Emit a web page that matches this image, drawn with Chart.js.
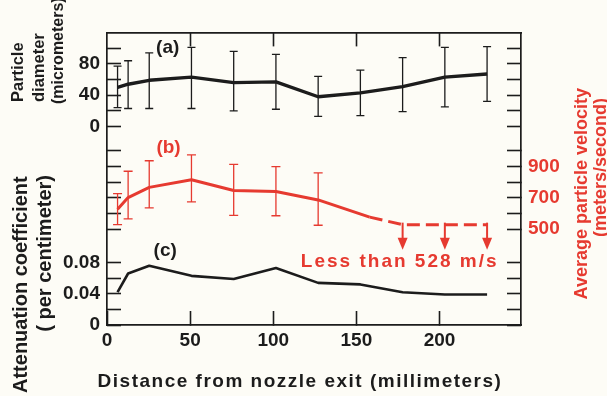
<!DOCTYPE html>
<html><head><meta charset="utf-8">
<script src="https://cdn.jsdelivr.net/npm/chart.js@4.4.1/dist/chart.umd.min.js"></script>
<style>html,body{margin:0;padding:0;background:#fdfcf6;}#wrap{width:607px;height:396px;}</style>
</head><body><div id="wrap"><canvas id="c" width="607" height="396"></canvas></div>
<script>
// ---- data ----
const distanceMm = [6.35, 12.7, 25.4, 50.8, 76.2, 101.6, 127, 152.4, 177.8, 203.2, 228.6];
const diameterMean = [50, 54, 59, 63, 56, 57, 38, 43, 51, 63, 67];
const diameterLow  = [24, 23, 23, 23, 20, 22, 13, 14, 19, 25, 32];
const diameterHigh = [77, 84, 94, 101, 96, 92, 64, 72, 88, 101, 102];
const velocityX    = [6.35, 12.7, 25.4, 50.8, 76.2, 101.6, 127];
const velocityMean = [627, 701, 766, 815, 746, 740, 686];
const velocityLow  = [528, 565, 635, 673, 587, 585, 524];
const velocityHigh = [726, 869, 936, 974, 913, 899, 859];
const velocityTailX = [158, 177.8, 203.2, 228.6];
const velocityTail  = [576, 528, 528, 528];
const upperBoundX = [177.8, 203.2, 228.6];
const upperBoundValue = 528;
const attenuation = [0.042, 0.066, 0.076, 0.063, 0.059, 0.073, 0.054, 0.052, 0.042, 0.039, 0.039];
const xTicks = [0, 50, 100, 150, 200];
const diameterTicks = [0, 20, 40, 60, 80, 100];
const diameterLabels = [0, 40, 80];
const velocityTicks = [500, 600, 700, 800, 900, 1000];
const velocityLabels = [500, 700, 900];
const attenuationTicks = [0, 0.02, 0.04, 0.06, 0.08];
const attenuationLabels = [0, 0.04, 0.08];

// ---- style ----
const RED = '#e63a30', INK = '#1c1c1c', BG = '#fdfcf6';
const FONT = "'Liberation Sans', Arial, sans-serif";
const tickFont = {family: FONT, size: 19, weight: 'bold'};
const setTicks = vals => s => { s.ticks = vals.map(v => ({value: v})); };
const grid = {drawOnChartArea: false, drawTicks: true, tickLength: -14, tickWidth: 1.6, tickColor: INK};
const border = {display: true, color: INK, width: 1.7};
const noBorder = {display: false};

const velocityLine = velocityX.map((x, i) => ({x, y: velocityMean[i]}))
  .concat(velocityTailX.map((x, i) => ({x, y: velocityTail[i]})));
const dashFrom = velocityX.length; // segments after the solid part are dashed

const bgPlugin = {
  id: 'bg',
  beforeDraw(chart) { const c = chart.ctx; c.save(); c.fillStyle = BG; c.fillRect(0, 0, chart.width, chart.height); c.restore(); },
  afterLayout(chart) {
    // let the zero-width attenuation axis share the label gutter of the diameter axis
    const s = chart.scales.yA; s.left = 0; s.width = s.right;
  }
};

const errorBars = {
  id: 'errorBars',
  beforeDatasetsDraw(chart) {
    const {ctx, scales: {x, yD, yV}} = chart;
    const draw = (xs, lo, hi, sc, color, cap) => {
      ctx.save(); ctx.strokeStyle = color; ctx.lineWidth = 1.3;
      xs.forEach((xv, i) => {
        const px = x.getPixelForValue(xv), p1 = sc.getPixelForValue(lo[i]), p2 = sc.getPixelForValue(hi[i]);
        ctx.beginPath();
        ctx.moveTo(px, p1); ctx.lineTo(px, p2);
        ctx.moveTo(px - cap, p1); ctx.lineTo(px + cap, p1);
        ctx.moveTo(px - cap, p2); ctx.lineTo(px + cap, p2);
        ctx.stroke();
      });
      ctx.restore();
    };
    draw(distanceMm, diameterLow, diameterHigh, yD, INK, 4);
    draw(velocityX, velocityLow, velocityHigh, yV, RED, 4.5);
  },
  afterDatasetsDraw(chart) {
    const {ctx, scales: {x, yV}} = chart;
    ctx.save(); ctx.strokeStyle = RED; ctx.fillStyle = RED; ctx.lineWidth = 2;
    upperBoundX.forEach(xv => {
      const px = x.getPixelForValue(xv), py = yV.getPixelForValue(upperBoundValue);
      ctx.beginPath(); ctx.moveTo(px, py - 2); ctx.lineTo(px, py + 14); ctx.stroke();
      ctx.beginPath(); ctx.moveTo(px - 5, py + 13); ctx.lineTo(px + 5, py + 13); ctx.lineTo(px, py + 25); ctx.closePath(); ctx.fill();
    });
    ctx.restore();
  }
};

function txt(ctx, s, x, y, opt) {
  ctx.save();
  ctx.font = `${opt.weight || 'bold'} ${opt.size}px ${FONT}`;
  ctx.fillStyle = opt.color || INK;
  ctx.textAlign = opt.align || 'center';
  ctx.textBaseline = 'middle';
  if ('letterSpacing' in ctx) ctx.letterSpacing = (opt.spacing || 0) + 'px';
  ctx.translate(x, y);
  if (opt.rot) ctx.rotate(-Math.PI / 2);
  ctx.fillText(s, 0, 0);
  ctx.restore();
}

const labels = {
  id: 'labels',
  afterDraw(chart) {
    const {ctx, scales: {x, yD, yV, yA}} = chart;
    txt(ctx, '(a)', x.getPixelForValue(36.5), yD.getPixelForValue(100), {size: 19});
    txt(ctx, '(b)', x.getPixelForValue(37), yV.getPixelForValue(1018), {size: 19, color: RED});
    txt(ctx, '(c)', x.getPixelForValue(35), yA.getPixelForValue(0.095), {size: 19});
    txt(ctx, 'Less than 528 m/s', x.getPixelForValue(235.5), yV.getPixelForValue(289), {size: 19, color: RED, align: 'right', spacing: 2});
    // axis titles
    txt(ctx, 'Particle', 18, 102, {size: 16.5, rot: true, align: 'left'});
    txt(ctx, 'diameter', 39, 102, {size: 16.5, rot: true, align: 'left'});
    txt(ctx, '(micrometers)', 59, 104, {size: 16, rot: true, align: 'left'});
    txt(ctx, 'Attenuation coefficient', 21, 393, {size: 20, rot: true, align: 'left'});
    txt(ctx, '( per centimeter)', 45, 175, {size: 20, rot: true, align: 'right'});
    txt(ctx, 'Average particle velocity', 582, 88, {size: 18, rot: true, align: 'right', color: RED});
    txt(ctx, '(meters/second)', 601, 98, {size: 18, rot: true, align: 'right', color: RED});
    txt(ctx, 'Distance from nozzle exit (millimeters)', 300, 382, {size: 19, spacing: 1.5});
  }
};

new Chart(document.getElementById('c'), {
  type: 'line',
  data: {
    datasets: [
      {label: 'Particle diameter', yAxisID: 'yD', data: distanceMm.map((x, i) => ({x, y: diameterMean[i]})),
       borderColor: INK, borderWidth: 3.4, pointRadius: 0, tension: 0, borderJoinStyle: 'round'},
      {label: 'Average particle velocity', yAxisID: 'yV', data: velocityLine,
       borderColor: RED, borderWidth: 3, pointRadius: 0, tension: 0, borderJoinStyle: 'round',
       segment: {borderDash: c => c.p0DataIndex >= dashFrom ? [13, 6] : undefined}},
      {label: 'Attenuation coefficient', yAxisID: 'yA', data: distanceMm.map((x, i) => ({x, y: attenuation[i]})),
       borderColor: INK, borderWidth: 2.6, pointRadius: 0, tension: 0, borderJoinStyle: 'round'}
    ]
  },
  options: {
    responsive: false, animation: false, devicePixelRatio: 1,
    layout: {padding: 0},
    plugins: {legend: {display: false}, tooltip: {enabled: false}},
    scales: {
      x: {type: 'linear', position: 'bottom', min: 0, max: 249,
          afterBuildTicks: setTicks(xTicks), afterFit: s => { s.height = 71; },
          grid, border, ticks: {autoSkip: false, maxRotation: 0, padding: 18, color: INK, font: tickFont, callback: v => String(v)}},
      x2: {type: 'linear', position: 'top', min: 0, max: 249,
          afterBuildTicks: setTicks(xTicks.filter(v => v > 0)), afterFit: s => { s.height = 11; },
          grid, border, ticks: {display: false}},
      yD: {type: 'linear', position: 'left', weight: 3, min: -253.6, max: 120.2,
          afterBuildTicks: setTicks(diameterTicks), afterFit: s => { s.width = 107; },
          grid, border, ticks: {autoSkip: false, padding: 21, color: INK, font: tickFont,
            callback: v => diameterLabels.includes(v) ? String(v) : ''}},
      yA: {type: 'linear', position: 'left', weight: 1, min: 0, max: 0.3749,
          afterBuildTicks: setTicks(attenuationTicks), afterFit: s => { s.width = 0; },
          grid, border: noBorder, ticks: {autoSkip: false, padding: 21, color: INK, font: tickFont,
            callback: v => attenuationLabels.includes(v) ? String(v) : ''}},
      yVL: {type: 'linear', position: 'left', weight: 0, min: -113, max: 1756,
          afterBuildTicks: setTicks(velocityTicks), afterFit: s => { s.width = 0; },
          grid, border: noBorder, ticks: {display: false}},
      yV: {type: 'linear', position: 'right', weight: 3, min: -113, max: 1756,
          afterBuildTicks: setTicks(velocityTicks), afterFit: s => { s.width = 86; },
          grid, border, ticks: {autoSkip: false, padding: 21, color: RED, font: tickFont,
            callback: v => velocityLabels.includes(v) ? String(v) : ''}},
      yDR: {type: 'linear', position: 'right', weight: 0, min: -253.6, max: 120.2,
          afterBuildTicks: setTicks(diameterTicks), afterFit: s => { s.width = 0; },
          grid, border: noBorder, ticks: {display: false}},
      yAR: {type: 'linear', position: 'right', weight: 0, min: 0, max: 0.3749,
          afterBuildTicks: setTicks(attenuationTicks), afterFit: s => { s.width = 0; },
          grid, border: noBorder, ticks: {display: false}}
    }
  },
  plugins: [bgPlugin, errorBars, labels]
});
</script>
</body></html>
